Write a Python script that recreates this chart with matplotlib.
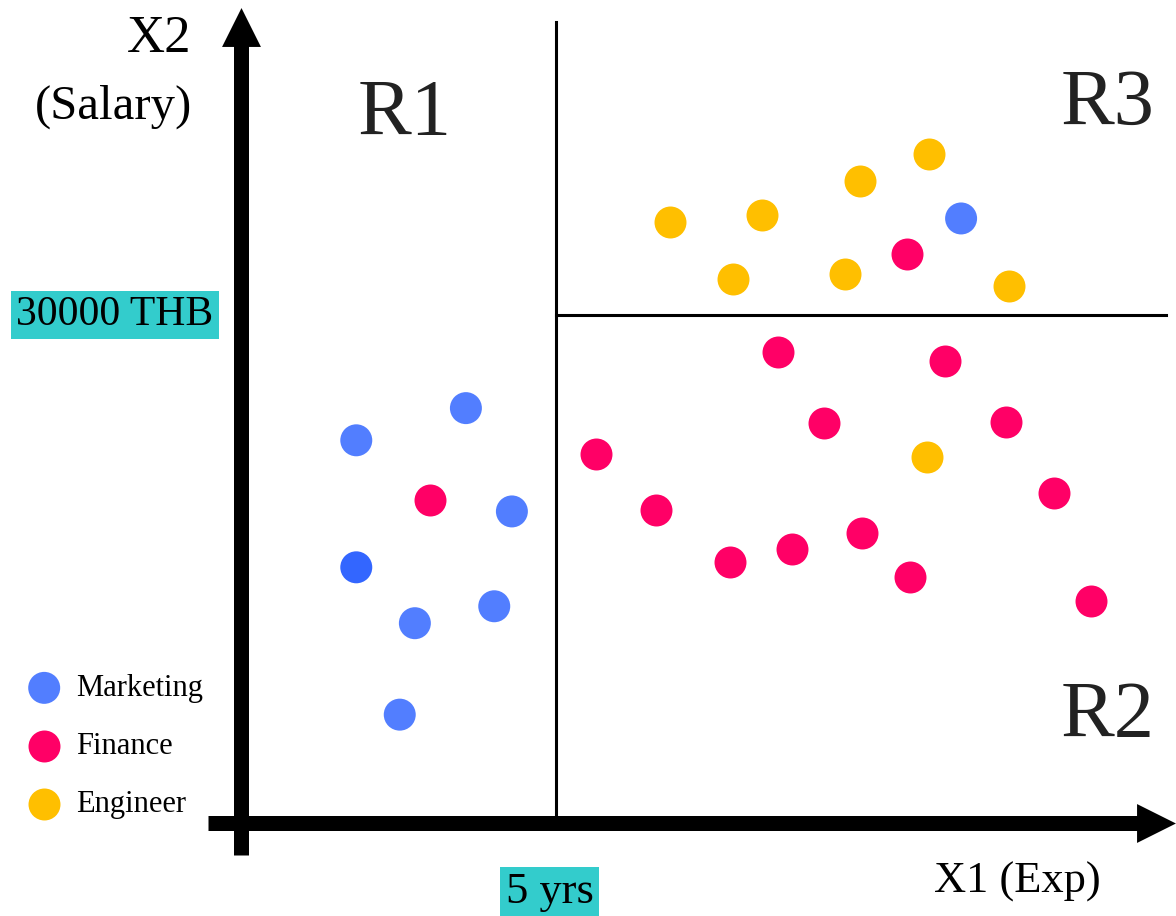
import numpy as np
import matplotlib.pyplot as plt

plt.rcParams['font.family'] = ['Liberation Serif', 'DejaVu Serif']

# experience in years, salary in thousand THB
mkt_exp = [1.83, 3.57, 4.30, 1.83, 2.76, 4.02, 2.52, 11.43]
mkt_sal = [22.6, 24.5, 18.4, 15.1, 11.8, 12.8, 6.4, 35.7]
mkt_col = ['#527eff', '#527eff', '#527eff', '#3366ff', '#527eff', '#527eff', '#527eff', '#527eff']

fin_exp = [3.00, 5.63, 6.59, 7.76, 8.75, 9.86, 10.62, 9.25, 8.52, 11.17, 12.14, 12.90, 13.49, 10.57]
fin_sal = [19.1, 21.8, 18.5, 15.4, 16.2, 17.1, 14.5, 23.6, 27.8, 27.3, 23.7, 19.5, 13.1, 33.6]

eng_exp = [6.81, 8.27, 7.81, 9.59, 9.83, 10.92, 12.19, 10.89]
eng_sal = [35.5, 35.9, 32.1, 32.4, 37.9, 39.5, 31.7, 21.6]

split_exp = 5      # years
split_sal = 30     # thousand THB

fig = plt.figure(figsize=(11.76, 9.16), dpi=100)
ax = fig.add_axes([0, 0, 1, 1])
ax.set_xlim(-3.825, 14.841)
ax.set_ylim(-5.49, 48.6)
ax.axis('off')

# main axes with arrow heads
ax.plot([-0.52, 14.3], [0, 0], color='black', lw=10.8, solid_capstyle='butt', zorder=2)
ax.plot([0, 0], [-1.89, 46.5], color='black', lw=10.8, solid_capstyle='butt', zorder=2)
ax.scatter([14.53], [0], marker='>', s=28**2, color='black', linewidths=0, zorder=3)
ax.scatter([0], [46.98], marker='^', s=28**2, color='black', linewidths=0, zorder=3)

# split lines
ax.plot([split_exp, split_exp], [0, 47.3], color='black', lw=2.2, zorder=2)
ax.plot([split_exp, 14.68], [split_sal, split_sal], color='black', lw=2.2, zorder=2)

# points
ax.scatter(mkt_exp, mkt_sal, s=530, c=mkt_col, linewidths=0, label='Marketing', zorder=4)
ax.scatter(fin_exp, fin_sal, s=530, c='#ff0066', linewidths=0, label='Finance', zorder=4)
ax.scatter(eng_exp, eng_sal, s=530, c='#ffbf00', linewidths=0, label='Engineer', zorder=4)

# region labels
ax.text(2.6, 40.6, 'R1', fontsize=58, color='#222222', ha='center', va='baseline')
ax.text(13.76, 41.2, 'R3', fontsize=58, color='#222222', ha='center', va='baseline')
ax.text(13.76, 5.1, 'R2', fontsize=58, color='#222222', ha='center', va='baseline')

# axis labels
ax.text(-0.78, 45.5, 'X2', fontsize=38, ha='right', va='baseline')
ax.text(-0.78, 41.6, '(Salary)', fontsize=35, ha='right', va='baseline')
ax.text(12.32, -4.13, 'X1 (Exp)', fontsize=32, ha='center', va='baseline')

box = dict(boxstyle='square,pad=0.12', facecolor='#33cccc', edgecolor='none')
ax.text(-2.0, 29.4, '30000 THB', fontsize=30, ha='center', va='baseline', bbox=box)
ax.text(4.9, -4.72, '5 yrs', fontsize=32, ha='center', va='baseline', bbox=box)

ax.legend(loc='upper left', bbox_to_anchor=(0.009, 0.281), frameon=False,
          fontsize=22, handletextpad=0.43, labelspacing=0.95, borderpad=0,
          handlelength=1.2, scatterpoints=1)

fig.savefig('out.png', dpi=100)
